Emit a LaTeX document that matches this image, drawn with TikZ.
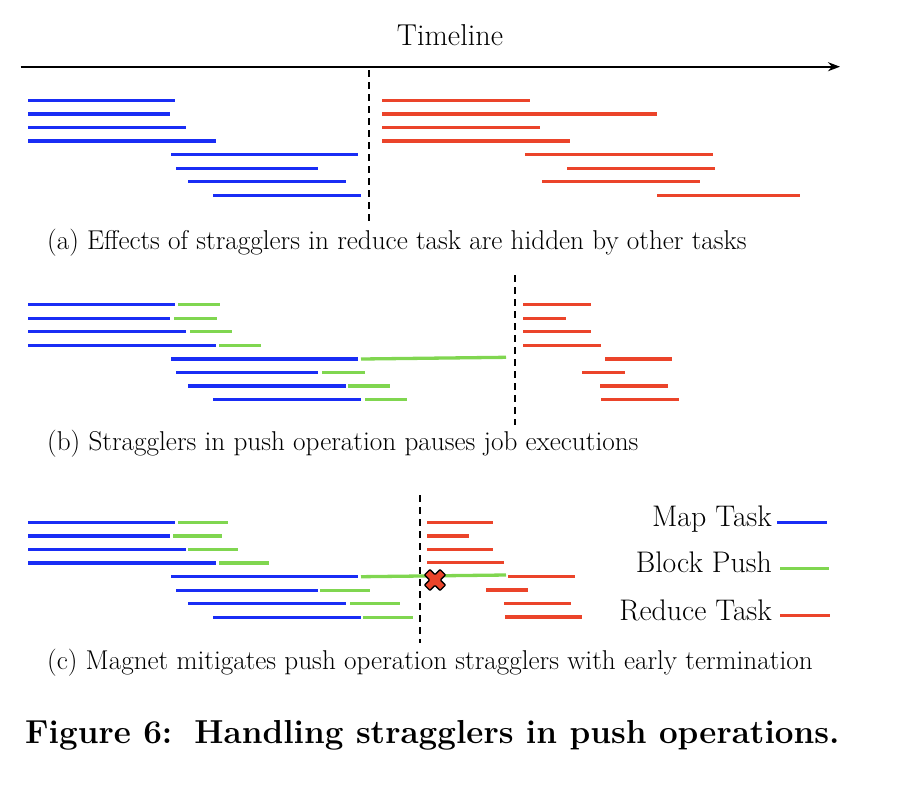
\documentclass[tikz,border=0pt]{standalone}
\usepackage{amsmath}
\usetikzlibrary{arrows.meta}

\definecolor{mapblue}{RGB}{25,45,245}
\definecolor{pushgreen}{RGB}{128,214,80}
\definecolor{reducered}{RGB}{235,68,42}

\tikzset{
  maptask/.style={line width=3.3pt, draw=mapblue},
  blockpush/.style={line width=3.3pt, draw=pushgreen},
  reducetask/.style={line width=3.3pt, draw=reducered},
  barrier/.style={line width=1.8pt, dash pattern=on 6.5pt off 5.5pt},
  captext/.style={anchor=base west, inner sep=0pt, font=\fontsize{27.2}{30}\selectfont},
  legtext/.style={anchor=base east, inner sep=0pt, font=\fontsize{29.8}{32}\selectfont}
}

\begin{document}
\begin{tikzpicture}[x=1pt, y=-1pt]
\useasboundingbox (0,0) rectangle (904,788);

% timeline
\coordinate (tstart) at (20.5,66.7);
\coordinate (tend) at (840,66.7);
\draw[line width=1.8pt,-{Stealth[length=12pt,width=9pt]}] (tstart) -- (tend);
\node[anchor=base, inner sep=0pt, font=\fontsize{30.2}{33}\selectfont] (timeline) at (450,45) {Timeline};

% (a) straggler in reduce task
\draw[maptask] (28,100.7) -- (175,100.7);
\draw[maptask] (28,114) -- (170,114);
\draw[maptask] (28,127.3) -- (186,127.3);
\draw[maptask] (28,141) -- (216,141);
\draw[maptask] (171,154.7) -- (358,154.7);
\draw[maptask] (176,168.5) -- (318,168.5);
\draw[maptask] (188,181.7) -- (346,181.7);
\draw[maptask] (213,195.7) -- (361,195.7);
\draw[barrier] (369,70) -- (369,222);
\draw[reducetask] (382,100.7) -- (530,100.7);
\draw[reducetask] (382,114) -- (657,114);
\draw[reducetask] (382,127.3) -- (540,127.3);
\draw[reducetask] (382,141) -- (570,141);
\draw[reducetask] (525,154.7) -- (713,154.7);
\draw[reducetask] (567,168.3) -- (715,168.3);
\draw[reducetask] (542,181.7) -- (700,181.7);
\draw[reducetask] (657,195.7) -- (800,195.7);
\node[captext] (capa) at (47,249.3) {(a) Effects of stragglers in reduce task are hidden by other tasks};

% (b) straggler in push operation
\draw[maptask] (28,304.7) -- (175,304.7);
\draw[maptask] (28,318.3) -- (170,318.3);
\draw[maptask] (28,331.7) -- (186,331.7);
\draw[maptask] (28,345.3) -- (216,345.3);
\draw[maptask] (171,359) -- (358,359);
\draw[maptask] (176,372.7) -- (318,372.7);
\draw[maptask] (188,386) -- (346,386);
\draw[maptask] (213,399.7) -- (361,399.7);
\draw[blockpush] (178,304.7) -- (220,304.7);
\draw[blockpush] (174,318.3) -- (217,318.3);
\draw[blockpush] (190,331.7) -- (232,331.7);
\draw[blockpush] (219,345.3) -- (261,345.3);
\draw[blockpush] (361,359) -- (506,357.3);
\draw[blockpush] (322,372.7) -- (365,372.7);
\draw[blockpush] (348,386) -- (390,386);
\draw[blockpush] (365,399.7) -- (407,399.7);
\draw[barrier] (515,275) -- (515,425);
\draw[reducetask] (523,304.3) -- (591,304.3);
\draw[reducetask] (523,318.3) -- (566,318.3);
\draw[reducetask] (523,331.7) -- (591,331.7);
\draw[reducetask] (523,345.3) -- (601,345.3);
\draw[reducetask] (605,359) -- (672,359);
\draw[reducetask] (582,372.7) -- (625,372.7);
\draw[reducetask] (600,386) -- (668,386);
\draw[reducetask] (601,399.3) -- (679,399.3);
\node[captext] (capb) at (47,450) {(b) Stragglers in push operation pauses job executions};

% (c) early termination
\draw[maptask] (28,522.7) -- (175,522.7);
\draw[maptask] (28,536) -- (170,536);
\draw[maptask] (28,549.7) -- (186,549.7);
\draw[maptask] (28,563) -- (216,563);
\draw[maptask] (171,576.7) -- (358,576.7);
\draw[maptask] (176,590.3) -- (318,590.3);
\draw[maptask] (188,603.7) -- (346,603.7);
\draw[maptask] (213,617.3) -- (361,617.3);
\draw[blockpush] (178,522.7) -- (228,522.7);
\draw[blockpush] (173,536) -- (222,536);
\draw[blockpush] (188,549.7) -- (238,549.7);
\draw[blockpush] (219,563) -- (269,563);
\draw[blockpush] (361,576.7) -- (506,575);
\draw[blockpush] (320,590.3) -- (370,590.3);
\draw[blockpush] (350,603.7) -- (400,603.7);
\draw[blockpush] (363,617.3) -- (413,617.3);
\draw[barrier, line width=1.4pt] (420,495) -- (420,643);
\draw[reducetask] (427,522.3) -- (493,522.3);
\draw[reducetask] (427,536) -- (469,536);
\draw[reducetask] (427,549.3) -- (493,549.3);
\draw[reducetask] (427,562.7) -- (504,562.7);
\draw[reducetask] (508,576.7) -- (575,576.7);
\draw[reducetask] (486,590) -- (528,590);
\draw[reducetask] (504,603.7) -- (571,603.7);
\draw[reducetask] (505,617) -- (582,617);
% cross mark
\begin{scope}[shift={(435,580)}, rotate=45]
\draw[line width=1.3pt, fill=reducered, rounded corners=0.8pt]
  (3.8,11) -- (3.8,3.8) -- (11,3.8) -- (11,-3.8) -- (3.8,-3.8) -- (3.8,-11)
  -- (-3.8,-11) -- (-3.8,-3.8) -- (-11,-3.8) -- (-11,3.8) -- (-3.8,3.8) -- (-3.8,11) -- cycle;
\end{scope}
\node[captext] (capc) at (47,669) {(c) Magnet mitigates push operation stragglers with early termination};

% legend
\node[legtext] (legmap) at (772,526.7) {Map Task};
\node[legtext] (legpush) at (772,572.7) {Block Push};
\node[legtext] (legreduce) at (772,620) {Reduce Task};
\draw[line width=2.8pt, draw=mapblue] ([xshift=5pt]legmap.base east) ++(0,-4.5) -- ++(50,0);
\draw[line width=2.8pt, draw=pushgreen] ([xshift=8pt]legpush.base east) ++(0,-4) -- ++(49,0);
\draw[line width=2.8pt, draw=reducered] ([xshift=8pt]legreduce.base east) ++(0,-4.5) -- ++(50,0);

\node[anchor=base west, inner sep=0pt, font=\fontsize{33.2}{36}\selectfont\bfseries] (figcap) at (25,743) {Figure 6:\, Handling stragglers in push operations.};
\end{tikzpicture}
\end{document}
